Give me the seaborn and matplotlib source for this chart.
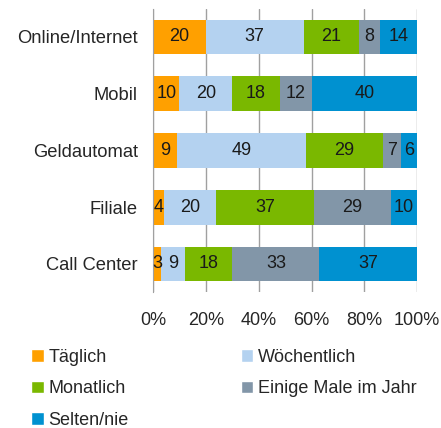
import numpy as np
import pandas as pd
import seaborn as sns
import matplotlib.pyplot as plt
from matplotlib.patches import Patch

kanaele = ["Online/Internet", "Mobil", "Geldautomat", "Filiale", "Call Center"]
serien = ["Täglich", "Wöchentlich", "Monatlich", "Einige Male im Jahr", "Selten/nie"]
taeglich = [20, 10, 9, 4, 3]
woechentlich = [37, 20, 49, 20, 9]
monatlich = [21, 18, 29, 37, 18]
einige_male = [8, 12, 7, 29, 33]
selten = [14, 40, 6, 10, 37]
farben = ["#FFA000", "#B4D2F0", "#7AB800", "#8296A8", "#0091D0"]

df = pd.DataFrame({"Kanal": kanaele,
                   "Täglich": taeglich,
                   "Wöchentlich": woechentlich,
                   "Monatlich": monatlich,
                   "Einige Male im Jahr": einige_male,
                   "Selten/nie": selten})

sns.set_style("white")
plt.rcParams['font.family'] = ['Liberation Sans', 'DejaVu Sans']

fig = plt.figure(figsize=(4.41, 4.28), dpi=100)
ax = fig.add_axes([0.347, 0.317, 0.599, 0.663])

# kumulierte Summen, laengste zuerst zeichnen
kum = df[serien].cumsum(axis=1)
for i in reversed(range(len(serien))):
    sns.barplot(x=kum[serien[i]], y=df["Kanal"], color=farben[i], width=0.61,
                orient="h", ax=ax, saturation=1, linewidth=0)

# Werte in die Segmente schreiben
for i, s in enumerate(serien):
    mitte = kum[s] - df[s] / 2
    for j, wert in enumerate(df[s]):
        ax.text(mitte[j], j, str(wert), ha="center", va="center",
                fontsize=13, color="#1a1a1a")

ax.set_xlim(0, 100)
ax.set_ylim(4.5, -0.5)
ax.set_xticks(range(0, 101, 20))
ax.set_xticklabels([f"{v}%" for v in range(0, 101, 20)], fontsize=13)
ax.tick_params(axis="y", labelsize=13.2, length=0, pad=11)
ax.tick_params(axis="x", length=7, width=1, color="#A0A0A0", direction="out", pad=7)
ax.set_xlabel("")
ax.set_ylabel("")
ax.grid(axis="x", color="#A0A0A0", linewidth=1)
ax.set_axisbelow(True)
for sp in ["top", "right", "bottom"]:
    ax.spines[sp].set_visible(False)
ax.spines["left"].set_color("#A0A0A0")

# Legende zeilenweise: Reihenfolge fuer spaltenweises Fuellen umstellen
reihenfolge = [0, 2, 4, 1, 3]
handles = [Patch(facecolor=farben[i], label=serien[i]) for i in reihenfolge]
fig.legend(handles=handles, ncol=2, loc="upper left", bbox_to_anchor=(0.055, 0.202),
           frameon=False, fontsize=13, handlelength=0.7, handleheight=0.7,
           handletextpad=0.25, columnspacing=6.2, labelspacing=0.8, borderaxespad=0)

fig.savefig("out.png", dpi=100)
